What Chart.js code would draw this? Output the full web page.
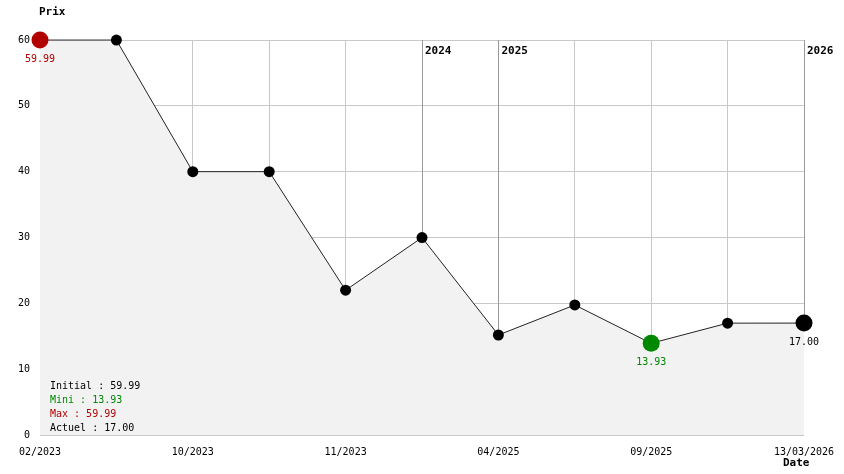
<!DOCTYPE html>
<html>
<head>
<meta charset="utf-8">
<script src="https://cdn.jsdelivr.net/npm/chart.js@4.4.1/dist/chart.umd.min.js"></script>
<style>
  html, body { margin: 0; padding: 0; background: #fff; }
  #wrap { width: 844px; height: 474px; position: relative; }
</style>
</head>
<body>
<div id="wrap"><canvas id="prixGraph"></canvas></div>
<script>
// points du relevé de prix
const dates = ['02/2023', '', '10/2023', '', '11/2023', '', '04/2025', '', '09/2025', '', '13/03/2026']
const prix = [59.99, 59.99, 40, 40, 21.99, 29.99, 15.19, 19.75, 13.93, 16.99, 17.00]
const annees = ['2024', '2025', '2026']
const anneeIdx = [5, 6, 10]

const rouge = 'rgb(178, 0, 0)'
const vert = 'rgb(0, 136, 0)'
const mono = '"DejaVu Sans Mono", "Liberation Mono", monospace'

const iMax = prix.indexOf(Math.max(...prix))
const iMin = prix.indexOf(Math.min(...prix))
const iLast = prix.length - 1

function couleur(i) {
    if (i === iMax) return rouge
    if (i === iMin) return vert
    return '#000'
}
function rayon(i) {
    return (i === iMax || i === iMin || i === iLast) ? 8.5 : 5.5
}

const extras = {
    id: 'extras',
    beforeDatasetsDraw(chart) {
        // lignes des années, jusqu'au point (le reste est sous le remplissage)
        const { ctx, chartArea, scales } = chart
        ctx.save()
        ctx.strokeStyle = '#999'
        ctx.lineWidth = 1
        anneeIdx.forEach(i => {
            const x = Math.round(scales.x.getPixelForValue(i)) + 0.5
            ctx.beginPath()
            ctx.moveTo(x, chartArea.top)
            ctx.lineTo(x, scales.y.getPixelForValue(prix[i]))
            ctx.stroke()
        })
        ctx.restore()
    },
    afterDraw(chart) {
        const { ctx, chartArea, scales } = chart
        ctx.save()
        ctx.textBaseline = 'middle'
        ctx.textAlign = 'left'
        ctx.fillStyle = '#000'
        ctx.font = 'bold 11px ' + mono
        anneeIdx.forEach((i, k) => {
            const x = scales.x.getPixelForValue(i)
            ctx.fillText(annees[k], x + 3, chartArea.top + 11)
        })
        ctx.fillText('Prix', 39, 12)
        ctx.fillText('Date', 783, 463)

        // valeurs sous les points remarquables
        ctx.font = '10px ' + mono
        ctx.textAlign = 'center'
        const marques = [[iMax, rouge], [iMin, vert], [iLast, '#000']]
        marques.forEach(([i, c]) => {
            const x = scales.x.getPixelForValue(i)
            const y = scales.y.getPixelForValue(prix[i])
            ctx.fillStyle = c
            ctx.fillText(prix[i].toFixed(2), x, y + 19)
        })

        // résumé en bas à gauche
        ctx.textAlign = 'left'
        const lignes = [
            ['Initial : ' + prix[0].toFixed(2), '#000'],
            ['Mini : ' + prix[iMin].toFixed(2), vert],
            ['Max : ' + prix[iMax].toFixed(2), rouge],
            ['Actuel : ' + prix[iLast].toFixed(2), '#000']
        ]
        lignes.forEach(([t, c], k) => {
            ctx.fillStyle = c
            ctx.fillText(t, 50, 386 + k * 14)
        })
        ctx.restore()
    }
}

const config = {
    type: 'line',
    data: {
        labels: dates,
        datasets: [{
            data: prix,
            borderColor: '#222',
            borderWidth: 1,
            backgroundColor: '#f2f2f2',
            fill: 'origin',
            tension: 0,
            clip: false,
            pointRadius: ctx => rayon(ctx.dataIndex),
            pointBackgroundColor: ctx => couleur(ctx.dataIndex),
            pointBorderColor: ctx => couleur(ctx.dataIndex),
            pointBorderWidth: 0
        }]
    },
    options: {
        responsive: false,
        animation: false,
        layout: { padding: { top: 40, right: 40, left: 0, bottom: 0 } },
        plugins: { legend: { display: false }, tooltip: { enabled: false } },
        scales: {
            x: {
                grid: {
                    color: ctx => (ctx.index === iLast || ctx.index === 0) ? 'rgba(0,0,0,0)' : '#c8c8c8',
                    drawTicks: false
                },
                border: { display: false },
                ticks: {
                    autoSkip: false, maxRotation: 0, padding: 11,
                    color: '#000', font: { family: mono, size: 10 }
                },
                afterFit: s => {
                    s.height = 39
                    s.paddingLeft = 0
                    s.paddingRight = 0
                }
            },
            y: {
                min: 0, max: 60,
                grid: { color: '#c8c8c8', drawTicks: false },
                border: { display: false },
                ticks: {
                    stepSize: 10, padding: 10,
                    color: '#000', font: { family: mono, size: 10 }
                },
                afterFit: s => {
                    s.width = 40
                    s.paddingTop = 0
                    s.paddingBottom = 0
                }
            }
        }
    },
    plugins: [extras]
}

const canvas = document.getElementById('prixGraph')
canvas.width = 844
canvas.height = 474
new Chart(canvas, config)
</script>
</body>
</html>
